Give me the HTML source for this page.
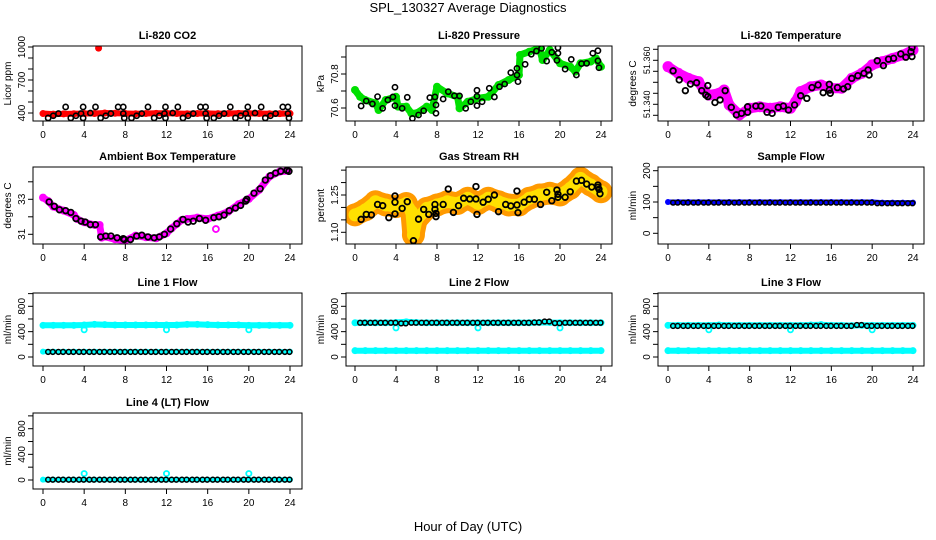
<!DOCTYPE html>
<html><head><meta charset="utf-8">
<style>
html,body{margin:0;padding:0;background:#fff;}
svg{display:block;font-family:"Liberation Sans",sans-serif;}
</style></head>
<body>
<svg id="c" width="936" height="540" xmlns="http://www.w3.org/2000/svg">
<text x="468" y="12" text-anchor="middle" font-size="13">SPL_130327  Average Diagnostics</text>
<text x="468" y="531" text-anchor="middle" font-size="13">Hour of Day (UTC)</text>
</svg>
<script>
// ---- data ----
const co2MinH = [0,1,2,3,4,5,6,7,8,9,10,11,12,13,14,15,16,17,18,19,20,21,22,23,24];
const co2MinV = [395,390,392,393,395,395,400,398,395,393,395,397,398,395,393,395,396,394,395,397,396,395,393,394,395];
const co2OutH = [5.4];
const co2OutV = [990];
const co2AvgH = [0.5,1,1.5,2.2,2.7,3.2,3.7,3.9,3.9,4.6,5.1,5.6,6.1,6.6,7.3,7.8,7.8,7.9,8.6,9.1,9.6,10.2,10.8,11.3,11.8,11.9,11.9,12.6,13.1,13.6,14.1,14.6,15.3,15.8,15.8,15.9,16.6,17.1,17.6,18.2,18.7,19.2,19.7,19.9,19.9,20.6,21.2,21.6,22.1,22.6,23.3,23.8,23.8,23.9];
const co2AvgV = [355,375,395,455,355,375,395,455,355,400,455,355,375,395,455,455,395,355,355,375,395,455,355,375,395,455,355,400,455,355,375,395,455,455,395,355,355,375,395,455,355,375,395,455,355,400,455,355,375,395,455,455,395,355];

const presMinH = [0,0.5,1,2,2.3,3,4,4.2,5,5.5,6,7,7.5,8,9,10,10.2,11,12,13,14,15,16,16.1,17,18,18.3,19,20,21,21.5,22,23,23.5,24];
const presMinV = [70.706,70.666,70.647,70.628,70.588,70.647,70.666,70.608,70.608,70.569,70.569,70.608,70.588,70.725,70.686,70.666,70.598,70.637,70.657,70.666,70.735,70.765,70.794,70.912,70.931,70.951,70.882,70.941,70.863,70.843,70.814,70.863,70.873,70.892,70.843];
const presAvgH = [0.6,1.1,1.7,2.2,2.7,3.2,3.7,3.9,3.9,4.6,5.1,5.6,6.2,6.7,7.3,7.8,7.9,7.9,8.6,9.1,9.7,10.2,10.8,11.3,11.9,11.9,11.9,12.4,13.1,13.6,14.1,14.6,15.2,15.8,15.8,15.9,16.6,17.2,17.7,18.2,18.7,19.2,19.7,19.8,19.8,20.5,21.1,21.6,22.1,22.6,23.2,23.7,23.7,23.8];
const presAvgV = [70.612,70.641,70.624,70.667,70.598,70.647,70.665,70.722,70.614,70.598,70.663,70.539,70.559,70.584,70.661,70.665,70.618,70.569,70.653,70.696,70.672,70.671,70.598,70.637,70.614,70.669,70.704,70.637,70.716,70.665,70.725,70.741,70.808,70.833,70.794,70.755,70.857,70.916,70.935,70.951,70.876,70.928,70.88,70.922,70.955,70.829,70.886,70.794,70.861,70.863,70.922,70.937,70.878,70.837];

const tempMinH = [0,1,2,3,3.5,4,5,5.5,6,7,8,9,10,11,12,12.5,13,14,15,16,17,18,19,20,21,22,23,24];
const tempMinV = [51.3571,51.3541,51.3518,51.3503,51.3465,51.3442,51.345,51.3465,51.3397,51.3352,51.3382,51.3389,51.3382,51.3389,51.3382,51.3412,51.3458,51.348,51.3488,51.3473,51.3473,51.3518,51.3541,51.3579,51.3594,51.3609,51.3624,51.3647];
const tempAvgH = [0.5,1.1,1.7,2.2,2.8,3.3,3.7,3.9,3.9,4.6,5.1,5.6,6.2,6.7,7.2,7.8,7.8,8.6,9.1,9.7,10.2,10.8,11.3,11.8,12.4,13,13.6,14.1,14.7,15.2,15.8,15.8,15.9,16.6,17.2,17.6,18,18.6,19.2,19.6,19.7,20.5,21.1,21.6,22.1,22.8,23.3,23.8,23.9,23.9];
const tempAvgV = [51.3552,51.3511,51.3462,51.3492,51.3498,51.3462,51.3442,51.3485,51.3435,51.3408,51.342,51.3462,51.3386,51.3352,51.3359,51.3364,51.3389,51.3392,51.3392,51.3364,51.3359,51.3386,51.3392,51.3374,51.3397,51.3439,51.3427,51.3476,51.3488,51.3453,51.3491,51.3465,51.345,51.3476,51.347,51.348,51.3518,51.353,51.3541,51.3556,51.3533,51.3598,51.3576,51.3605,51.3609,51.3629,51.3614,51.3639,51.3658,51.3617];

const ambMinH = [0,0.5,1,2,3,3.3,4,5,5.5,5.7,6,7,8,9,10,11,12,12.5,13,13.5,14,15,16,17,18,19,20,21,22,23,23.8];
const ambMinV = [33.095,32.905,32.581,32.352,32.105,31.876,31.686,31.533,31.533,30.81,30.867,30.714,30.638,30.924,30.829,30.771,31.057,31.343,31.59,31.819,31.876,31.952,31.876,32.067,32.295,32.714,33.019,33.533,34.295,34.581,34.619];
const ambOutH = [16.8];
const ambOutV = [31.3];
const ambAvgH = [0.6,1.1,1.6,2.2,2.7,3.2,3.7,4.1,4.6,5.1,5.6,6.1,6.6,7.2,7.8,7.9,8.5,9.1,9.6,10.2,10.8,11.3,11.8,12.4,13,13.6,14.1,14.6,15.2,15.8,16.6,17.1,17.6,18.1,18.7,19.2,19.7,19.8,20.5,21.1,21.6,22.1,22.6,23.1,23.7,23.9];
const ambAvgV = [32.85,32.6,32.4,32.35,32.25,31.9,31.75,31.7,31.55,31.55,30.85,30.9,30.9,30.8,30.75,30.7,30.7,30.9,30.95,30.85,30.8,30.85,31.0,31.3,31.6,31.85,31.7,31.75,31.9,31.8,31.95,32.0,32.1,32.35,32.5,32.65,32.9,33.0,33.35,33.6,34.1,34.35,34.5,34.6,34.65,34.6];

const rhMinH = [0,1,2,3,4,5,5.5,5.7,6,7,8,9,10,11,12,13,14,15,16,17,18,19,20,21,22,23,24];
const rhMinV = [1.17,1.19,1.223,1.21,1.203,1.216,1.183,1.089,1.15,1.196,1.21,1.223,1.216,1.237,1.216,1.237,1.223,1.21,1.21,1.237,1.25,1.257,1.25,1.277,1.317,1.29,1.263];
const rhAvgH = [0.6,1.1,1.6,2.2,2.7,3.3,3.9,3.9,3.9,4.6,5.1,5.7,6.2,6.7,7.2,7.8,7.8,7.9,7.9,8.6,9.1,9.6,10.1,10.6,11.2,11.8,11.8,11.9,12.5,13,13.6,14,14.7,15.2,15.8,15.8,15.9,16.5,17,17.5,18.1,18.7,19.2,19.7,19.8,19.8,20.5,21,21.6,22.1,22.6,23.1,23.7,23.8,23.9,23.7];
const rhAvgV = [1.152,1.172,1.17,1.212,1.207,1.159,1.246,1.174,1.221,1.196,1.223,1.066,1.153,1.192,1.172,1.212,1.192,1.176,1.163,1.212,1.274,1.18,1.207,1.237,1.234,1.284,1.234,1.172,1.221,1.233,1.25,1.183,1.212,1.206,1.266,1.21,1.179,1.221,1.233,1.233,1.212,1.261,1.227,1.27,1.253,1.241,1.241,1.263,1.306,1.309,1.294,1.282,1.29,1.273,1.255,1.281];

const hourly = [0,1,2,3,4,5,6,7,8,9,10,11,12,13,14,15,16,17,18,19,20,21,22,23,24];
const sampleMin = [100,100,100,100,100,100,100,100,100,100,100,100,100,100,100,100,100,100,100,100,100,98,98,98,98];
const sampleAvg = [98,98,98,98,98,98,98,98,98,98,98,98,98,98,98,98,98,98,98,98,98,96,96,96,96];
const line1HiMin = [500,500,500,500,505,515,510,505,505,505,505,505,505,505,515,515,510,505,505,505,500,500,500,500,500];
const line1LoMin = [85,85,85,85,85,85,85,85,85,85,85,85,85,85,85,85,85,85,85,85,85,85,85,85,85];
const line1Avg = [80,80,80,80,80,80,80,80,80,80,80,80,80,80,80,80,80,80,80,80,80,80,80,80,80];
const line2HiMin = [540,540,540,540,545,555,545,540,540,540,540,540,540,540,540,540,540,540,545,545,540,540,540,540,540];
const line2LoMin = [100,100,100,100,100,100,100,100,100,100,100,100,100,100,100,100,100,100,100,100,100,100,100,100,100];
const line2Avg = [540,540,540,540,540,530,540,540,540,540,540,540,540,540,540,540,540,540,545,560,535,540,540,540,540];
const line3HiMin = [500,500,500,500,500,505,500,500,500,500,500,500,500,500,505,510,500,500,495,500,500,500,500,500,500];
const line3LoMin = [100,100,100,100,100,100,100,100,100,100,100,100,100,100,100,100,100,100,100,100,100,100,100,100,100];
const line3Avg = [490,490,490,490,490,490,490,490,490,490,490,490,490,490,490,490,490,490,490,505,490,490,490,490,490];
const line4Min = [5,5,5,5,5,5,5,5,5,5,5,5,5,5,5,5,5,5,5,5,5,5,5,5,5];
const line4Avg = [5,5,5,5,5,5,5,5,5,5,5,5,5,5,5,5,5,5,5,5,5,5,5,5,5];
const dipH = [4,12,20];
const line1Dip = [430,430,430];
const line2Dip = [460,460,460];
const line3Dip = [430,430,430];
const line4Spike = [100,100,100];
const xTicks = [0,4,8,12,16,20,24];

// ---- drawing ----
const svg = document.getElementById('c');
const NS = 'http://www.w3.org/2000/svg';
function mk(tag, attrs, parent){
  const e = document.createElementNS(NS, tag);
  for (const k in attrs) e.setAttribute(k, attrs[k]);
  (parent||svg).appendChild(e);
  return e;
}
const cols = [{bl:33,br:302,x0:43,x24:290},{bl:346,br:612,x0:355,x24:601},{bl:658,br:924,x0:668,x24:913}];
const rows = [{bt:46,bb:121},{bt:167,bb:244},{bt:293,bb:366},{bt:413,bb:489}];

function panel(name, title, ylab, r, c, v0, p0, v1, p1, ticks, labels, lfs){
  const R = rows[r], C = cols[c];
  const g = mk('g', {});
  
  
  const xs = h => C.x0 + (C.x24 - C.x0) * h / 24;
  const ys = v => p0 + (v - v0) * (p1 - p0) / (v1 - v0);
  const t = mk('text', {x:(C.bl+C.br)/2, y:R.bt-7, 'text-anchor':'middle', 'font-size':11, 'font-weight':'bold'}, g);
  t.textContent = title;
  
  
  const yl = mk('text', {transform:`translate(${C.bl-22},${(R.bt+R.bb)/2}) rotate(-90)`, 'text-anchor':'middle', 'font-size':10}, g);
  yl.textContent = ylab;
  
  
  const clip = 'clip-' + name;
  const cp = mk('clipPath', {id:clip}, g);
  mk('rect', {x:C.bl, y:R.bt, width:C.br-C.bl, height:R.bb-R.bt}, cp);
  const plot = mk('g', {'clip-path':`url(#${clip})`}, g);
  
  
  mk('rect', {x:C.bl, y:R.bt, width:C.br-C.bl, height:R.bb-R.bt, fill:'none', stroke:'#000', 'stroke-width':1}, g);
  xTicks.forEach(h => {
    mk('line', {x1:xs(h), x2:xs(h), y1:R.bb, y2:R.bb+5, stroke:'#000'}, g);
    const tl = mk('text', {x:xs(h), y:R.bb+17, 'text-anchor':'middle', 'font-size':10}, g);
    tl.textContent = h;
    
    
  });
  ticks.forEach(v => {
    const y = ys(v);
    mk('line', {x1:C.bl-5, x2:C.bl, y1:y, y2:y, stroke:'#000'}, g);
  });
  labels.forEach(l => {
    const y = ys(l[0]);
    const tl = mk('text', {transform:`translate(${C.bl-8},${y}) rotate(-90)`, 'text-anchor':'middle', 'font-size':lfs||10}, g);
    tl.textContent = l[1];
    
    
  });
  return {plot, xs, ys};
}
function band(P, H, V, color, w, name){
  const pts = H.map((h,i) => P.xs(h).toFixed(1) + ',' + P.ys(V[i]).toFixed(1)).join(' ');
  const pl = mk('polyline', {points:pts, fill:'none', stroke:color, 'stroke-width':w, 'stroke-linejoin':'round', 'stroke-linecap':'round'}, P.plot);
  
  
  H.forEach((h,i) => {
    const d = mk('circle', {cx:P.xs(h), cy:P.ys(V[i]), r:w/2+0.5, fill:color}, P.plot);
    
    
  });
}
function circles(P, H, V, color, name, r, sw){
  H.forEach((h,i) => {
    const d = mk('circle', {cx:P.xs(h), cy:P.ys(V[i]), r:r||2.6, fill:'none', stroke:color, 'stroke-width':sw||1.6}, P.plot);
    
    
  });
}
function dots(P, H, V, color, name){
  H.forEach((h,i) => {
    const d = mk('circle', {cx:P.xs(h), cy:P.ys(V[i]), r:3.5, fill:color}, P.plot);
    
    
  });
}
function avgFromHourly(P, V, color, name){
  const H = [], W = [];
  hourly.forEach((h,i) => { if (h>0){ H.push(h-0.5); W.push(V[i]); H.push(h-0.05); W.push(V[i]); } });
  circles(P, H, W, color, name, 2.4, 1.5);
}

let P = panel('co2-panel','Li-820 CO2','Licor ppm',0,0,400,113,1000,47,[400,500,600,700,800,900,1000],[[400,'400'],[700,'700'],[1000,'1000']]);
band(P, co2MinH, co2MinV, '#ff0000', 6, 'co2-minute-series');
dots(P, co2OutH, co2OutV, '#ff0000', 'co2-outlier');
circles(P, co2AvgH, co2AvgV, '#000', 'co2-average-point');

P = panel('pressure-panel','Li-820 Pressure','kPa',0,1,70.6,108,70.8,74,[70.6,70.7,70.8,70.9],[[70.6,'70.6'],[70.8,'70.8']]);
band(P, presMinH, presMinV, '#00e000', 7, 'pressure-minute-series');
circles(P, presAvgH, presAvgV, '#000', 'pressure-average-point');

P = panel('temperature-panel','Li-820 Temperature','degrees C',0,2,51.34,104.3,51.36,60.3,[51.335,51.34,51.345,51.35,51.355,51.36,51.365],[[51.34,'51.340'],[51.36,'51.360']],9);
band(P, tempMinH, tempMinV, '#ff00ff', 10, 'temperature-minute-series');
circles(P, tempAvgH, tempAvgV, '#000', 'temperature-average-point', 2.8, 1.8);

P = panel('ambient-temp-panel','Ambient Box Temperature','degrees C',1,0,33,199.3,31,234.3,[31,32,33,34],[[31,'31'],[33,'33']]);
band(P, ambMinH, ambMinV, '#ff00ff', 7, 'ambient-minute-series');
circles(P, ambOutH, ambOutV, '#ff00ff', 'ambient-outlier', 3, 1.8);
circles(P, ambAvgH, ambAvgV, '#000', 'ambient-average-point', 2.8, 1.8);

P = panel('rh-panel','Gas Stream RH','percent',1,1,1.25,195,1.10,232.3,[1.10,1.15,1.20,1.25,1.30,1.35],[[1.10,'1.10'],[1.25,'1.25']]);
band(P, rhMinH, rhMinV, '#ff9a00', 22, 'rh-minute-series');
band(P, rhMinH, rhMinV, '#ffe000', 12, 'rh-minute-series-inner');
circles(P, rhAvgH, rhAvgV, '#000', 'rh-average-point', 2.8, 1.8);

P = panel('sample-flow-panel','Sample Flow','ml/min',1,2,0,233.3,200,170.7,[0,50,100,150,200],[[0,'0'],[100,'100'],[200,'200']]);
band(P, hourly, sampleMin, '#0000ff', 5, 'sample-flow-minute-series');
avgFromHourly(P, sampleAvg, '#000', 'sample-flow-average-point');

const flowTicks = [0,200,400,600,800,1000];
const flowLabels = [[0,'0'],[400,'400'],[800,'800']];
P = panel('line1-flow-panel','Line 1 Flow','ml/min',2,0,0,357,800,306.3,flowTicks,flowLabels);
band(P, hourly, line1HiMin, '#00ffff', 6, 'line1-high-series');
band(P, hourly, line1LoMin, '#00ffff', 5, 'line1-low-series');
circles(P, dipH, line1Dip, '#00ffff', 'line1-dip', 2.6, 1.8);
avgFromHourly(P, line1Avg, '#000', 'line1-average-point');

P = panel('line2-flow-panel','Line 2 Flow','ml/min',2,1,0,357,800,306.3,flowTicks,flowLabels);
band(P, hourly, line2HiMin, '#00ffff', 6, 'line2-high-series');
band(P, hourly, line2LoMin, '#00ffff', 6, 'line2-low-series');
circles(P, dipH, line2Dip, '#00ffff', 'line2-dip', 2.6, 1.8);
avgFromHourly(P, line2Avg, '#000', 'line2-average-point');

P = panel('line3-flow-panel','Line 3 Flow','ml/min',2,2,0,357,800,306.3,flowTicks,flowLabels);
band(P, hourly, line3HiMin, '#00ffff', 6, 'line3-high-series');
band(P, hourly, line3LoMin, '#00ffff', 6, 'line3-low-series');
circles(P, dipH, line3Dip, '#00ffff', 'line3-dip', 2.6, 1.8);
avgFromHourly(P, line3Avg, '#000', 'line3-average-point');

P = panel('line4-flow-panel','Line 4 (LT) Flow','ml/min',3,0,0,480,800,428.7,flowTicks,flowLabels);
band(P, hourly, line4Min, '#00ffff', 5, 'line4-series');
circles(P, dipH, line4Spike, '#00ffff', 'line4-spike', 2.6, 1.8);
avgFromHourly(P, line4Avg, '#000', 'line4-average-point');
</script>
</body></html>
